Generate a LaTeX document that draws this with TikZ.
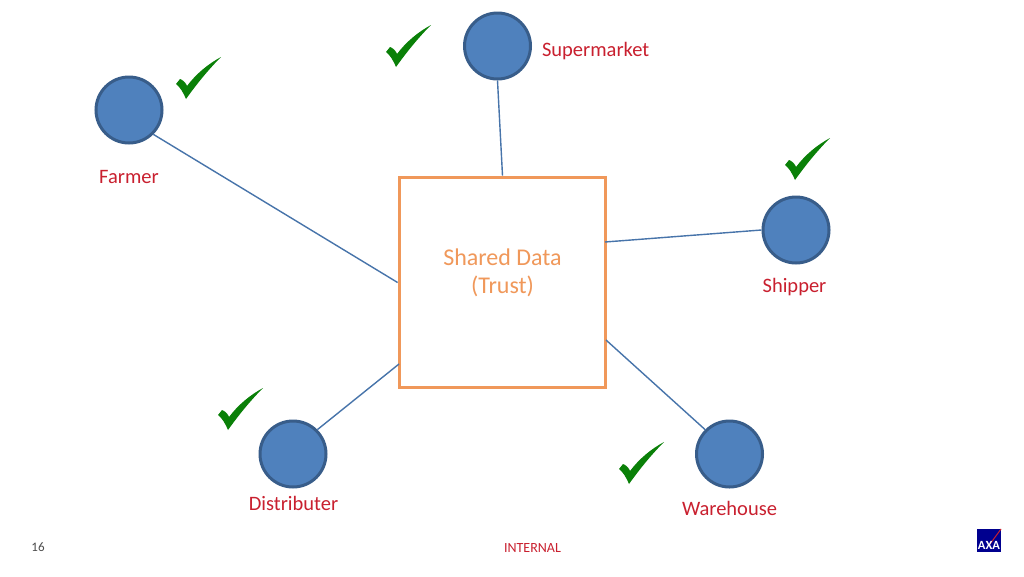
\documentclass[tikz,border=0pt]{standalone}
\usepackage{fontspec}
\setmainfont{Carlito}
\usetikzlibrary{positioning}
\definecolor{axared}{HTML}{C9202F}
\definecolor{boxorange}{HTML}{F0985A}
\definecolor{circleblue}{HTML}{4F81BD}
\definecolor{circleedge}{HTML}{385D8A}
\definecolor{tickgreen}{HTML}{0A8008}
\definecolor{axablue}{HTML}{00008F}
\tikzset{
  party/.style={circle, draw=circleedge, fill=circleblue, line width=3pt, minimum size=66pt, inner sep=0pt},
  partylabel/.style={text=axared, font=\fontsize{20.5}{24}\selectfont},
  link/.style={circleblue!90!black, line width=1.4pt},
  tick/.pic={
    \fill[tickgreen] (0,0) .. controls (-3,-7) and (-6,-12) .. (-10,-15)
      -- (-6,-20) .. controls (-3,-19) and (0,-16) .. (1,-13)
      .. controls (10,-25) and (22,-35) .. (35,-42)
      .. controls (22,-29) and (10,-14) .. (0,0) -- cycle;
  }
}
\begin{document}
\begin{tikzpicture}[x=1pt, y=-1pt]
    \useasboundingbox (0,0) rectangle (1024,576);
    \fill[white] (0,0) rectangle (1024,576);

    % Parties
    \node[party] (farmer) at (129,110) {};
    \node[party] (market) at (497.5,46) {};
    \node[party] (shipper) at (796,230) {};
    \node[party] (distrib) at (293,454) {};
    \node[party] (ware) at (729.5,454) {};

    % Shared data box
    \node[draw=boxorange, line width=3.8pt, minimum width=206pt, minimum height=210pt] (data) at (502.5,282.5) {};
    \node[align=center, text=boxorange, font=\fontsize{24}{28}\selectfont] (datalab) at (502.5,272.5) {Shared Data\\(Trust)};

    % Free ends on the box
    \coordinate (shipperend) at (605,242);
    \coordinate (distribend) at (399,364);
    \coordinate (wareend) at (606,340);

    % Links
    \draw[link] (farmer.south east) -- (data.west);
    \draw[link] (market.south) -- (data.north);
    \draw[link] (shipper.west) -- (shipperend);
    \draw[link] (distrib.north east) -- (distribend);
    \draw[link] (ware.north west) -- (wareend);

    % Labels
    \node[partylabel] (farmerlab) at (129,177) {Farmer};
    \node[partylabel, anchor=west] (marketlab) at (538.5,51) {Supermarket};
    \node[partylabel] (shipperlab) at (794.5,287.5) {Shipper};
    \node[partylabel] (distriblab) at (293.5,503) {Distributer};
    \node[partylabel] (warelab) at (729.5,508.5) {Warehouse};

    % Ticks
    \foreach \x/\y in {186/99, 396/67, 795/180, 228/430, 629/484} {
      \pic at (\x,\y) {tick};
    }

    % Footer
    \node[font=\fontsize{13}{15}\selectfont, text=black!70] (page) at (38,547.5) {16};
    \node[font=\fontsize{14}{16}\selectfont, text=axared] (internal) at (532.5,547.5) {INTERNAL};

    % Logo
    \fill[axablue] (977,529) rectangle (1001,552);
    \draw[axared, line width=1pt] (990,544) -- (1001,529);
    \node[font=\fontsize{12.5}{14}\selectfont\bfseries, text=white, inner sep=0pt] (axa) at (989,545) {AXA};
  \end{tikzpicture}
\end{document}
